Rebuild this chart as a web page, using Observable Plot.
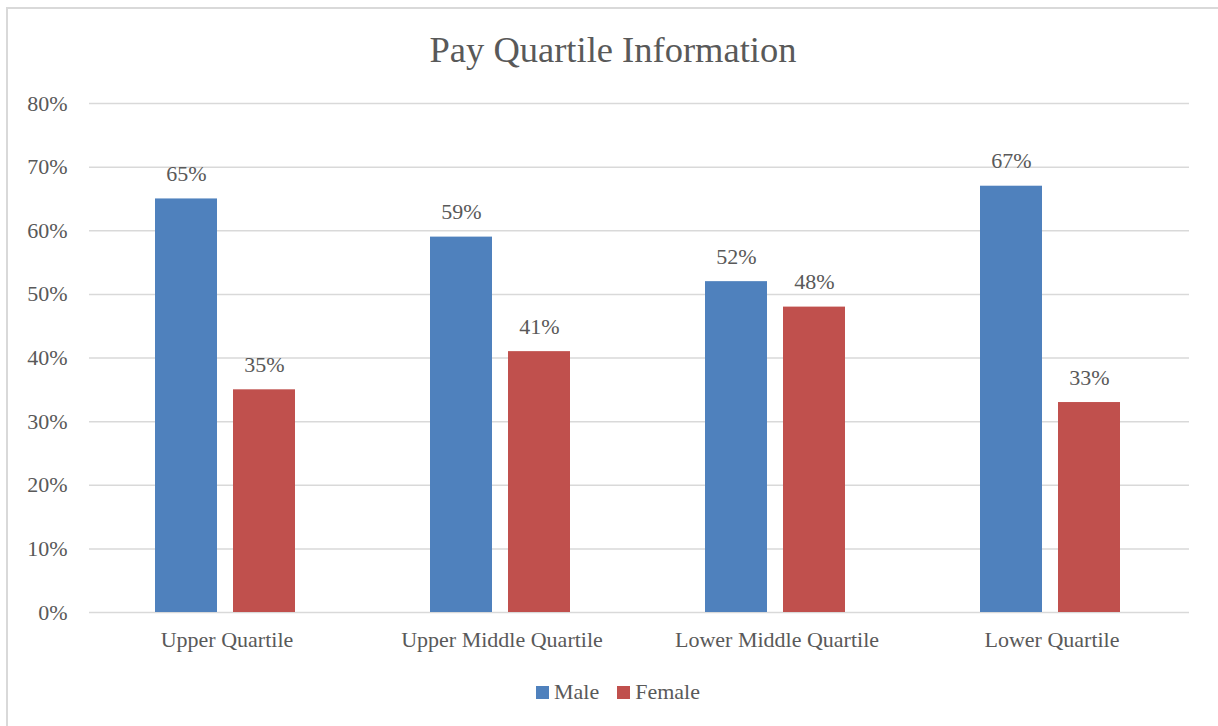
<!DOCTYPE html>
<html>
<head>
<meta charset="utf-8">
<script src="https://cdn.jsdelivr.net/npm/d3@7"></script>
<script src="https://cdn.jsdelivr.net/npm/@observablehq/plot@0.6"></script>
<style>
  html, body { margin: 0; padding: 0; background: #fff; }
  #wrap { position: relative; width: 1218px; height: 726px; overflow: hidden; font-family: "Liberation Serif", "DejaVu Serif", serif; color: #595959; }
  #frame { position: absolute; left: 6px; top: 7px; width: 1230px; height: 740px; border: 2px solid #d9d9d9; box-sizing: border-box; }
  #title { position: absolute; left: 7px; width: 1212px; top: 28px; text-align: center; font-size: 36.5px; line-height: 44px; color: #595959; }
  #chart { position: absolute; left: 0; top: 0; }
  #chart svg, #chart svg text { font-family: "Liberation Serif", serif !important; font-size: 22px; }
  #legend { position: absolute; left: 0; width: 1236px; top: 679px; text-align: center; font-size: 22px; line-height: 26px; }
  .li { display: inline-block; margin: 0 9px; }
  .sw { display: inline-block; width: 13px; height: 13px; margin-right: 5px; vertical-align: 0px; }
</style>
</head>
<body>
<div id="wrap">
  <div id="frame"></div>
  <div id="title">Pay Quartile Information</div>
  <div id="chart"></div>
  <div id="legend"></div>
</div>
<script>
const categories = ["Upper Quartile", "Upper Middle Quartile", "Lower Middle Quartile", "Lower Quartile"];
const series = ["Male", "Female"];
const maleValues = [65, 59, 52, 67];
const femaleValues = [35, 41, 48, 33];
const seriesColors = ["#4F81BD", "#C0504D"];
const yTicks = [0, 10, 20, 30, 40, 50, 60, 70, 80];

const rows = [];
categories.forEach((c, i) => {
  rows.push({category: c, series: "Male", value: maleValues[i]});
  rows.push({category: c, series: "Female", value: femaleValues[i]});
});

const chart = Plot.plot({
  width: 1218,
  height: 726,
  marginTop: 103,
  marginBottom: 114,
  marginLeft: 88,
  marginRight: 28,
  style: {fontFamily: "Liberation Serif", fontSize: "22px", color: "#595959", background: "transparent"},
  fx: {domain: categories, padding: 0, axis: "bottom", tickSize: 0, tickPadding: 19, label: null},
  x: {domain: series, axis: null, paddingInner: 0.205, paddingOuter: 0.86},
  y: {domain: [0, 80], ticks: yTicks, tickFormat: d => d + "%", tickSize: 0, tickPadding: 22, label: null},
  color: {domain: series, range: seriesColors},
  marks: [
    Plot.ruleY(yTicks, {stroke: "#d9d9d9", strokeWidth: 1.5}),
    Plot.barY(rows, {fx: "category", x: "series", y: "value", fill: "series", dx: -1}),
    Plot.text(rows, {fx: "category", x: "series", y: "value", text: d => d.value + "%", dy: -25, dx: -1, fill: "#595959", fontSize: 22, fontFamily: "Liberation Serif"})
  ]
});
document.getElementById("chart").appendChild(chart);

const legend = document.getElementById("legend");
series.forEach((s, i) => {
  const item = document.createElement("span");
  item.className = "li";
  const sw = document.createElement("span");
  sw.className = "sw";
  sw.style.background = seriesColors[i];
  item.appendChild(sw);
  item.appendChild(document.createTextNode(s));
  legend.appendChild(item);
});
</script>
</body>
</html>
